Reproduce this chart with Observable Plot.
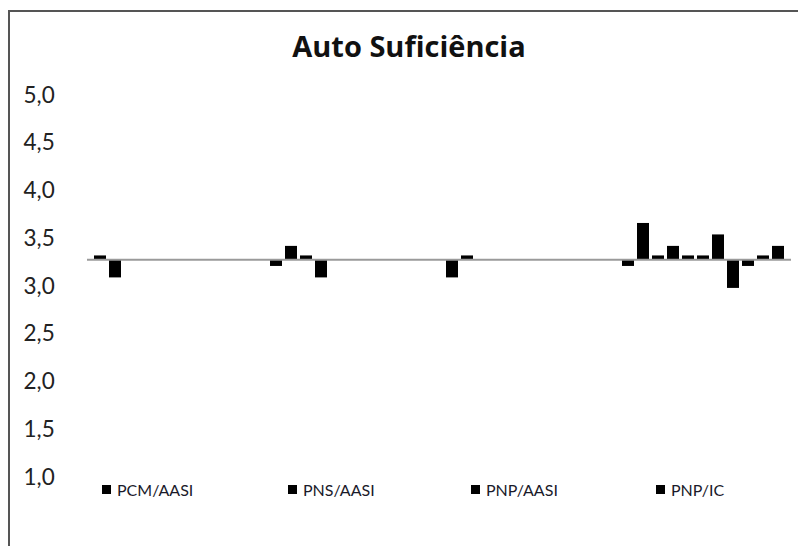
<!DOCTYPE html>
<html>
<head>
<meta charset="utf-8">
<script src="https://cdn.jsdelivr.net/npm/d3@7"></script>
<script src="https://cdn.jsdelivr.net/npm/@observablehq/plot@0.6"></script>
<style>
  html, body { margin: 0; padding: 0; background: #fff; overflow: hidden; }
  #wrap { position: relative; width: 798px; height: 546px; overflow: hidden; font-family: Lato, "Open Sans", sans-serif; }
  #frame { position: absolute; left: 8px; top: 10px; width: 820px; height: 600px; border: 2px solid #555; box-sizing: border-box; }
  #chart { position: absolute; left: 0; top: 0; }
  #title { position: absolute; left: 0; width: 818px; top: 31px; line-height: 29px; text-align: center; font-family: "Open Sans", Lato, sans-serif; font-weight: bold; font-size: 29px; color: #111; }
  .leg { position: absolute; top: 480px; font-size: 16px; color: #1a1a2a; display: flex; align-items: center; white-space: nowrap; }
  .leg i { display: inline-block; width: 9px; height: 9px; background: #000; margin-right: 6px; }
</style>
</head>
<body>
<div id="wrap">
  <div id="frame"></div>
  <div id="chart"></div>
  <div id="title"></div>
</div>
<script>
// ---- data ----
const chartTitle = "Auto Suficiência";
const categories = ["PCM/AASI", "PNS/AASI", "PNP/AASI", "PNP/IC"];
const pcmAasi = [3.32, 3.09];
const pnsAasi = [3.21, 3.42, 3.32, 3.09];
const pnpAasi = [3.09, 3.32];
const pnpIc   = [3.21, 3.66, 3.32, 3.42, 3.32, 3.32, 3.54, 2.98, 3.21, 3.32, 3.42];
const baseline = 3.28;
const yTicks = [1.0, 1.5, 2.0, 2.5, 3.0, 3.5, 4.0, 4.5, 5.0];
const legendLeft = [102, 288, 471, 656];

const seriesByCat = [pcmAasi, pnsAasi, pnpAasi, pnpIc];
const nSeries = 11;
const rows = [];
seriesByCat.forEach((vals, ci) => {
  vals.forEach((v, si) => rows.push({cat: categories[ci], s: si, v}));
});

const W = 798, H = 546;
const chart = Plot.plot({
  width: W,
  height: H,
  marginLeft: 86,
  marginRight: 6,
  marginTop: 95,
  marginBottom: 69,
  style: {fontFamily: "Lato, 'Open Sans', sans-serif", background: "transparent"},
  fx: {domain: categories, padding: 0, axis: null},
  x: {domain: d3.range(nSeries), paddingInner: 0.2, paddingOuter: 0.33, axis: null},
  y: {domain: [1, 5]},
  marks: [
    Plot.axisY({
      ticks: yTicks,
      tickSize: 0,
      tickPadding: 0,
      textAnchor: "start",
      dx: -64,
      fontSize: 22.5,
      fill: "#222",
      tickFormat: d => d.toFixed(1).replace(".", ","),
      label: null
    }),
    Plot.rectY(rows, {fx: "cat", x: "s", y1: () => baseline, y2: "v", fill: "#000"}),
    Plot.ruleY([baseline], {stroke: "#9a9a9a", strokeWidth: 2})
  ]
});
document.getElementById("chart").appendChild(chart);
document.getElementById("title").textContent = chartTitle;

const wrap = document.getElementById("wrap");
categories.forEach((c, i) => {
  const d = document.createElement("div");
  d.className = "leg";
  d.style.left = legendLeft[i] + "px";
  d.innerHTML = "<i></i>";
  d.appendChild(document.createTextNode(c));
  wrap.appendChild(d);
});
</script>
</body>
</html>
